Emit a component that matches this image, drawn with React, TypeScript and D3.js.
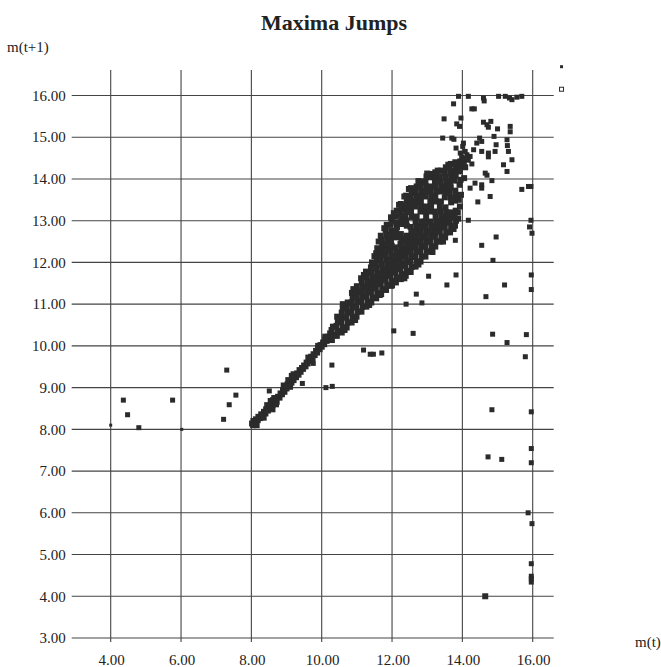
import React from "react";
import * as d3 from "d3";

// Axis ticks
const xTicks = [4, 6, 8, 10, 12, 14, 16];
const yTicks = [3, 4, 5, 6, 7, 8, 9, 10, 11, 12, 13, 14, 15, 16];

// Narrow diagonal band of (m(t), m(t+1)) pairs between 8 and 10.3
const diagonalBand: [number, number][] = [
  [8.02, 8.14], [8.06, 8.2], [8.1, 8.16], [8.13, 8.24], [8.18, 8.22], [8.2, 8.3], [8.25, 8.27],
  [8.28, 8.36], [8.32, 8.31], [8.36, 8.42], [8.4, 8.38], [8.42, 8.48], [8.47, 8.45], [8.5, 8.55],
  [8.54, 8.5], [8.56, 8.62], [8.6, 8.58], [8.62, 8.7], [8.66, 8.64], [8.7, 8.74], [8.72, 8.66],
  [8.76, 8.78], [8.8, 8.76], [8.83, 8.86], [8.87, 8.84], [8.9, 8.94], [8.94, 8.9], [8.96, 9.02],
  [9.0, 8.98], [9.03, 9.08], [9.07, 9.04], [9.1, 9.16], [9.14, 9.12], [9.17, 9.22], [9.2, 9.18],
  [9.24, 9.28], [9.27, 9.25], [9.3, 9.34], [9.34, 9.31], [9.37, 9.42], [9.4, 9.38], [9.44, 9.47],
  [9.47, 9.45], [9.5, 9.53], [9.54, 9.51], [9.57, 9.6], [9.6, 9.58], [9.64, 9.67], [9.67, 9.64],
  [9.7, 9.74], [9.74, 9.71], [9.77, 9.8], [9.8, 9.78], [9.84, 9.88], [9.87, 9.84], [9.9, 9.94],
  [9.94, 9.92], [9.97, 10.02], [10.0, 9.98], [10.04, 10.08], [10.07, 10.04], [10.1, 10.15],
  [10.14, 10.12], [10.17, 10.22], [10.2, 10.18], [10.24, 10.3],
  [8.45, 8.58], [8.6, 8.48], [8.65, 8.75], [8.55, 8.68], [8.7, 8.6], [8.92, 9.05], [9.05, 9.18],
  [9.15, 9.28], [9.2, 9.32], [9.1, 9.02], [8.35, 8.28], [8.15, 8.1], [8.05, 8.1], [9.62, 9.72],
  [9.9, 10.0], [10.1, 10.22],
];

// Dense fan of pairs between 10.3 and 14
const mainCluster: [number, number][] = [
  [10.29, 10.14], [10.31, 10.26], [10.28, 10.38], [10.32, 10.46],
  [10.43, 10.24], [10.45, 10.36], [10.42, 10.48], [10.46, 10.6], [10.44, 10.7],
  [10.57, 10.32], [10.6, 10.44], [10.56, 10.56], [10.59, 10.68], [10.57, 10.8], [10.6, 10.9],
  [10.71, 10.44], [10.74, 10.56], [10.7, 10.68], [10.73, 10.8], [10.71, 10.92], [10.74, 11.04],
  [10.85, 10.56], [10.88, 10.68], [10.84, 10.8], [10.87, 10.92], [10.85, 11.04], [10.88, 11.16], [10.86, 11.27],
  [10.99, 10.7], [11.02, 10.82], [10.98, 10.94], [11.01, 11.06], [10.99, 11.18], [11.02, 11.3], [11.0, 11.43],
  [11.13, 10.82], [11.16, 10.94], [11.12, 11.06], [11.15, 11.18], [11.13, 11.3], [11.16, 11.42], [11.14, 11.54], [11.12, 11.62],
  [11.27, 10.94], [11.3, 11.06], [11.26, 11.18], [11.29, 11.3], [11.27, 11.42], [11.3, 11.54], [11.28, 11.66], [11.26, 11.78],
  [11.41, 11.04], [11.44, 11.16], [11.4, 11.28], [11.43, 11.4], [11.41, 11.52], [11.44, 11.64], [11.42, 11.76], [11.4, 11.88], [11.43, 12.0],
  [11.55, 11.14], [11.58, 11.26], [11.54, 11.38], [11.57, 11.5], [11.55, 11.62], [11.58, 11.74], [11.56, 11.86], [11.54, 11.98], [11.57, 12.1], [11.55, 12.22], [11.58, 12.34],
  [11.69, 11.24], [11.72, 11.36], [11.68, 11.48], [11.71, 11.6], [11.69, 11.72], [11.72, 11.84], [11.7, 11.96], [11.68, 12.08], [11.71, 12.2], [11.69, 12.32], [11.72, 12.44], [11.7, 12.54], [11.68, 12.64],
  [11.83, 11.34], [11.86, 11.46], [11.82, 11.58], [11.85, 11.7], [11.83, 11.82], [11.86, 11.94], [11.84, 12.06], [11.82, 12.18], [11.85, 12.3], [11.83, 12.42], [11.86, 12.54], [11.84, 12.66], [11.82, 12.78], [11.85, 12.9],
  [11.97, 11.44], [12.0, 11.56], [11.96, 11.68], [11.99, 11.8], [11.97, 11.92], [12.0, 12.04], [11.98, 12.16], [11.96, 12.28], [11.99, 12.4], [11.97, 12.52], [12.0, 12.64], [11.98, 12.76], [11.96, 12.9], [11.99, 13.0], [11.97, 13.08],
  [12.11, 11.52], [12.14, 11.64], [12.1, 11.76], [12.13, 11.88], [12.11, 12.0], [12.14, 12.12], [12.12, 12.24], [12.1, 12.36], [12.13, 12.6], [12.11, 12.72], [12.14, 12.84], [12.12, 12.96], [12.1, 13.1], [12.13, 13.24],
  [12.25, 11.6], [12.28, 11.72], [12.24, 11.84], [12.27, 11.96], [12.25, 12.08], [12.28, 12.2], [12.26, 12.32], [12.24, 12.44], [12.27, 12.56], [12.25, 12.68], [12.28, 12.92], [12.26, 13.04], [12.24, 13.16], [12.27, 13.28], [12.25, 13.4],
  [12.39, 11.68], [12.42, 11.8], [12.38, 11.92], [12.41, 12.04], [12.39, 12.16], [12.42, 12.28], [12.4, 12.4], [12.38, 12.52], [12.41, 12.64], [12.42, 12.88], [12.4, 13.0], [12.38, 13.12], [12.41, 13.24], [12.39, 13.36], [12.42, 13.48], [12.4, 13.6],
  [12.53, 11.77], [12.56, 11.89], [12.52, 12.01], [12.55, 12.13], [12.53, 12.25], [12.56, 12.37], [12.54, 12.49], [12.52, 12.61], [12.55, 12.73], [12.53, 12.85], [12.56, 13.09], [12.54, 13.21], [12.52, 13.33], [12.55, 13.45], [12.53, 13.57], [12.56, 13.67], [12.54, 13.78],
  [12.67, 11.9], [12.7, 12.02], [12.66, 12.14], [12.69, 12.26], [12.67, 12.38], [12.7, 12.5], [12.68, 12.62], [12.66, 12.74], [12.69, 12.86], [12.67, 12.98], [12.7, 13.1], [12.68, 13.34], [12.66, 13.46], [12.69, 13.58], [12.67, 13.7], [12.7, 13.82],
  [12.81, 12.02], [12.84, 12.14], [12.8, 12.26], [12.83, 12.38], [12.81, 12.5], [12.84, 12.62], [12.82, 12.74], [12.8, 12.86], [12.83, 12.98], [12.81, 13.22], [12.84, 13.34], [12.82, 13.46], [12.8, 13.58], [12.83, 13.7], [12.81, 13.82], [12.84, 13.94],
  [12.95, 12.14], [12.98, 12.26], [12.94, 12.38], [12.97, 12.5], [12.95, 12.62], [12.98, 12.74], [12.96, 12.86], [12.94, 12.98], [12.97, 13.1], [12.95, 13.22], [12.98, 13.34], [12.96, 13.58], [12.94, 13.7], [12.97, 13.82], [12.95, 13.94], [12.98, 14.06],
  [13.09, 12.26], [13.12, 12.38], [13.08, 12.5], [13.11, 12.62], [13.09, 12.74], [13.12, 12.86], [13.1, 12.98], [13.08, 13.22], [13.11, 13.34], [13.09, 13.46], [13.12, 13.58], [13.1, 13.7], [13.08, 13.82], [13.11, 14.04], [13.09, 14.12],
  [13.23, 12.38], [13.26, 12.5], [13.22, 12.62], [13.25, 12.74], [13.23, 12.86], [13.26, 12.98], [13.24, 13.1], [13.22, 13.22], [13.25, 13.46], [13.23, 13.58], [13.26, 13.7], [13.24, 13.82], [13.22, 13.94], [13.25, 14.06], [13.23, 14.16],
  [13.37, 12.5], [13.4, 12.62], [13.36, 12.74], [13.39, 12.86], [13.37, 12.98], [13.4, 13.1], [13.38, 13.22], [13.36, 13.34], [13.39, 13.46], [13.37, 13.7], [13.4, 13.82], [13.38, 13.94], [13.36, 14.06], [13.39, 14.2],
  [13.51, 12.6], [13.54, 12.72], [13.5, 12.84], [13.53, 12.96], [13.51, 13.08], [13.54, 13.2], [13.52, 13.32], [13.5, 13.56], [13.53, 13.68], [13.51, 13.8], [13.54, 13.92], [13.52, 14.04], [13.5, 14.16], [13.53, 14.28],
  [13.65, 12.72], [13.68, 12.84], [13.64, 12.96], [13.67, 13.08], [13.65, 13.2], [13.68, 13.44], [13.66, 13.56], [13.64, 13.68], [13.67, 13.8], [13.65, 13.92], [13.68, 14.04], [13.66, 14.16], [13.64, 14.28], [13.67, 14.36],
  [13.79, 12.88], [13.82, 13.0], [13.78, 13.12], [13.81, 13.24], [13.79, 13.48], [13.82, 13.6], [13.8, 13.72], [13.78, 13.96], [13.81, 14.08], [13.79, 14.2], [13.82, 14.32], [13.8, 14.4],
  [13.93, 13.34], [13.96, 13.62], [13.92, 13.86], [13.95, 13.98], [13.93, 14.18], [13.96, 14.3], [13.94, 14.42],
  [14.05, 14.02], [14.08, 14.28], [14.04, 14.4],
  // ragged fringe along both edges
  [10.6, 11.0], [10.9, 11.36], [11.2, 11.7], [11.5, 12.15], [11.62, 12.5], [11.78, 12.82],
  [12.05, 13.18], [12.2, 13.38], [12.35, 13.58], [12.48, 13.76], [12.75, 13.95], [13.0, 14.13],
  [13.3, 14.2], [13.6, 14.34],
  [10.65, 10.38], [10.95, 10.62], [11.35, 10.98], [11.65, 11.22], [12.0, 11.45], [12.35, 11.62],
  [12.75, 11.95], [13.15, 12.25], [13.45, 12.5], [13.75, 12.8], [13.88, 13.05], [13.9, 13.5], [13.87, 13.2],
];

// Sparser pairs trailing up toward the 16.00 ceiling
const upperStreak: [number, number][] = [
  [13.89, 15.98], [14.17, 15.98], [14.6, 15.94], [14.62, 15.87], [15.03, 15.98], [15.22, 15.98],
  [15.34, 15.94], [15.41, 15.9], [15.55, 15.96], [15.69, 15.98],
  [13.75, 15.8], [14.27, 15.68], [14.34, 15.68], [13.48, 15.44], [13.96, 15.46], [13.84, 15.32], [13.92, 15.26],
  [14.6, 15.36], [14.7, 15.3], [14.81, 15.38], [14.74, 15.24], [15.0, 15.2], [15.36, 15.26], [15.36, 15.13],
  [13.44, 14.98], [13.7, 14.98], [13.76, 14.95], [13.82, 14.74], [14.03, 14.86], [14.01, 14.78],
  [14.49, 14.98], [14.55, 14.9], [14.41, 14.86], [14.9, 15.02], [14.96, 14.82], [15.27, 14.94],
  [15.28, 14.8], [15.31, 14.66],
  [13.94, 14.62], [14.13, 14.58], [14.22, 14.54], [14.32, 14.7], [14.55, 14.66], [14.74, 14.62],
  [14.74, 14.53], [14.93, 14.66], [15.41, 14.46], [15.17, 14.34], [15.27, 14.18], [14.65, 14.14], [14.7, 14.09],
  [13.98, 14.53], [14.08, 14.66], [14.17, 14.45], [14.27, 14.36], [14.1, 14.5],
  [14.22, 13.78], [14.36, 13.9], [14.55, 13.86], [14.55, 13.78], [14.84, 13.96], [14.79, 13.58],
  [14.44, 13.45], [14.17, 13.01], [13.8, 12.53], [14.55, 12.41], [14.96, 12.61], [14.87, 12.05],
  [15.69, 13.75], [15.88, 13.82], [15.95, 13.82],
];

// Isolated jumps away from the diagonal
const scatterPoints: [number, number][] = [
  [13.04, 11.67], [13.82, 11.7], [13.56, 11.46], [12.69, 11.24], [12.85, 11.03], [12.4, 11.0],
  [15.2, 11.46], [14.67, 11.18], [12.05, 10.36], [12.6, 10.3], [14.86, 10.28], [15.27, 10.08],
  [15.82, 10.27], [15.79, 9.74], [11.19, 9.9], [11.38, 9.8], [11.47, 9.8], [11.71, 9.83],
  [10.29, 9.54], [10.3, 9.03], [10.12, 9.0], [9.76, 9.58], [9.45, 9.1], [8.51, 8.92],
  [14.84, 8.47], [14.73, 7.34], [15.12, 7.28],
  [4.36, 8.7], [4.48, 8.35], [4.8, 8.04], [5.76, 8.7], [7.3, 9.42], [7.56, 8.82], [7.37, 8.59], [7.21, 8.24],
];

// Pairs whose m(t) sits at the 16.00 ceiling
const edgeColumn: [number, number][] = [
  [15.95, 13.01], [15.91, 12.85], [15.98, 12.7], [15.96, 11.7], [15.96, 11.35], [15.96, 8.42],
  [15.96, 7.54], [15.96, 7.2], [15.87, 6.0], [15.98, 5.74], [15.96, 4.78], [15.96, 4.48],
  [15.96, 4.42], [15.96, 4.34],
];

// A few marks drawn in other sizes / styles
const largePoints: [number, number][] = [[14.65, 4.0]];
const smallPoints: [number, number][] = [[4.0, 8.1], [6.02, 8.0], [16.82, 16.69]];
const hollowPoints: [number, number][] = [[16.82, 16.15]];

const INK = "#2b2b2b";
const FONT = "'Liberation Serif', 'Times New Roman', serif";

export default function App() {
  const W = 661;
  const H = 667;
  const x = d3.scaleLinear().domain([4, 16]).range([110.7, 532.7]);
  const y = d3.scaleLinear().domain([3, 16]).range([638, 95.5]);
  const fmt = d3.format(".2f");

  const gridLeft = x(4) - 39;
  const gridRight = x(16) + 21;
  const gridTop = y(16) - 25.5;
  const gridBottom = y(3) + 4;

  const dense = [...diagonalBand, ...mainCluster];
  const sparse = [...upperStreak, ...scatterPoints, ...edgeColumn];

  return (
    <div style={{ position: "absolute", left: 0, top: 0 }}>
      <svg width={W} height={H} style={{ display: "block", background: "#fff" }}>
        <text x={334} y={30} textAnchor="middle" fontFamily={FONT} fontWeight="bold" fontSize={22} fill="#222">
          Maxima Jumps
        </text>
        <text x={7} y={52} fontFamily={FONT} fontSize={15} fill="#222">m(t+1)</text>
        <text x={635} y={647} fontFamily={FONT} fontSize={15} fill="#222">m(t)</text>

        <g stroke="#444" strokeWidth={1.1}>
          {yTicks.map((t) => (
            <line key={"h" + t} x1={gridLeft} x2={gridRight} y1={y(t)} y2={y(t)} />
          ))}
          {xTicks.map((t) => (
            <line key={"v" + t} x1={x(t)} x2={x(t)} y1={gridTop} y2={gridBottom} />
          ))}
        </g>

        <g fontFamily={FONT} fontSize={15} fill="#222">
          {yTicks.map((t) => (
            <text key={"yl" + t} x={x(4) - 45} y={y(t)} dy="0.35em" textAnchor="end">
              {fmt(t)}
            </text>
          ))}
          {xTicks.map((t) => (
            <text key={"xl" + t} x={x(t) + 1} y={y(3) + 27} textAnchor="middle">
              {fmt(t)}
            </text>
          ))}
        </g>

        <g fill={INK}>
          {dense.map(([a, b], i) => (
            <rect key={"d" + i} x={x(a) - 3} y={y(b) - 3} width={6} height={6} />
          ))}
          {sparse.map(([a, b], i) => (
            <rect key={"p" + i} x={x(a) - 2.5} y={y(b) - 2.5} width={5} height={5} />
          ))}
          {largePoints.map(([a, b], i) => (
            <rect key={"l" + i} x={x(a) - 3} y={y(b) - 3} width={6} height={6} />
          ))}
          {smallPoints.map(([a, b], i) => (
            <rect key={"s" + i} x={x(a) - 1.5} y={y(b) - 1.5} width={3} height={3} />
          ))}
        </g>
        <g fill="none" stroke={INK} strokeWidth={1}>
          {hollowPoints.map(([a, b], i) => (
            <rect key={"o" + i} x={x(a) - 2} y={y(b) - 2} width={4} height={4} />
          ))}
        </g>
      </svg>
    </div>
  );
}
